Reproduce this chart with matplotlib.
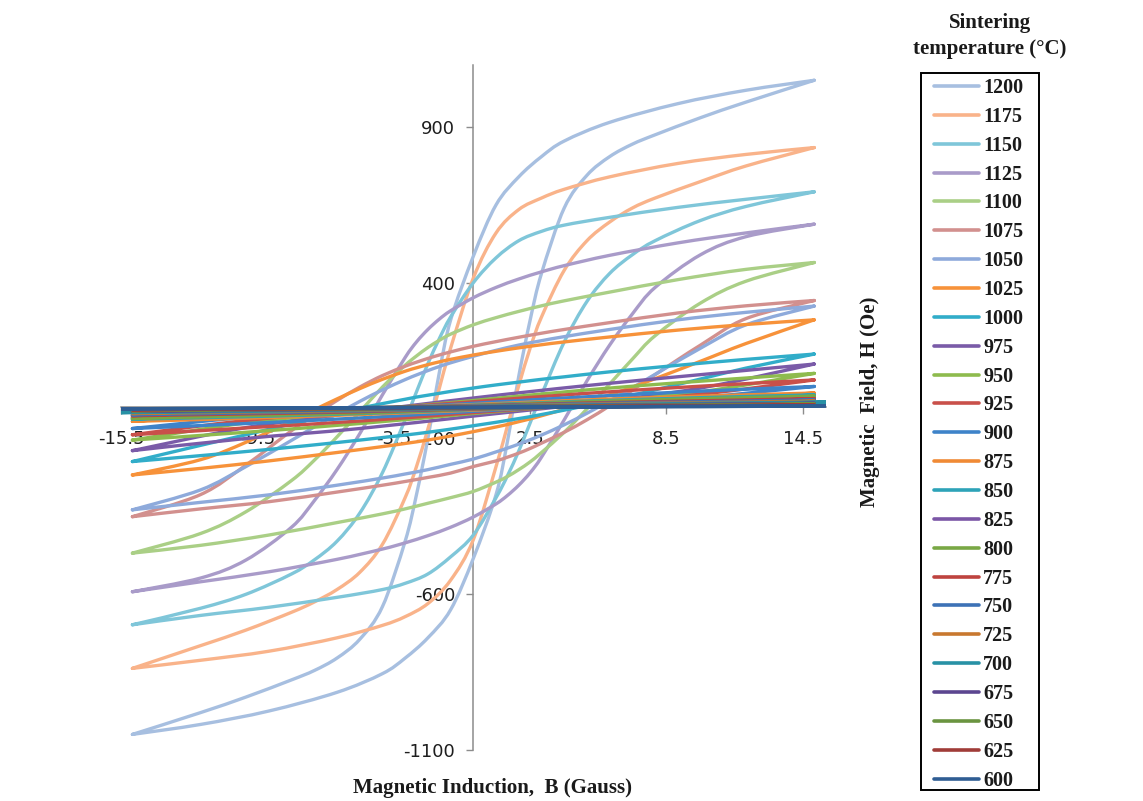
import matplotlib
matplotlib.use('Agg')
import matplotlib.pyplot as plt
from matplotlib.patches import Rectangle, PathPatch
from matplotlib.path import Path
from matplotlib.lines import Line2D
from matplotlib.font_manager import FontProperties

plt.rcParams['axes.unicode_minus'] = False

# sintering temperatures, in legend order
temps = [1200, 1175, 1150, 1125, 1100, 1075, 1050, 1025, 1000,
         975, 950, 925, 900, 875, 850, 825, 800, 775, 750, 725, 700, 675, 650, 625, 600]
colors = ['#A7BFE0', '#F9B38A', '#7FC6D9', '#A99BC9', '#AACF86', '#D2908E', '#8EAADB',
          '#F7923A', '#31ADC9', '#7A5BA8', '#8EBB4E', '#C9504A', '#3E83C9', '#F08A35',
          '#2DA3B8', '#7B56A6', '#79A845', '#BE433F', '#3D72B6', '#C8782F', '#2891A5',
          '#5C4690', '#6A9440', '#A03C38', '#2F5D93']

# B (Gauss) for the wide loops: descending branch, then ascending branch
b_down = [15, 12, 9, 6, 4, 3, 2, 1, 0, -1, -1.5, -2, -2.5, -3, -4, -5, -6, -7, -8, -10, -12, -15]
b_up = [-15, -12, -9, -6, -4, -3, -2, -1, 0, 1, 1.5, 2, 2.5, 3, 4, 5, 6, 7, 8, 10, 12, 15]

# H (Oe)
h1200_down = [1050, 1018, 975, 915, 855, 805, 740, 650, 485, 280, 110, -100, -280, -430, -640, -745, -805, -845, -875, -930, -980, -1050]
h1200_up = [-1050, -1018, -975, -915, -855, -805, -740, -650, -485, -280, -110, 100, 280, 430, 640, 745, 805, 845, 875, 930, 980, 1050]
h1175_down = [834, 812, 783, 740, 700, 672, 635, 560, 415, 190, 60, -70, -190, -290, -440, -530, -585, -625, -658, -715, -765, -838]
h1175_up = [-838, -812, -783, -740, -700, -672, -630, -555, -425, -190, -60, 70, 190, 290, 440, 535, 595, 640, 672, 725, 775, 834]
h1150_down = [692, 668, 642, 610, 585, 565, 535, 480, 400, 290, 220, 140, 50, -40, -210, -340, -430, -490, -535, -600, -645, -698]
h1150_up = [-698, -668, -642, -610, -585, -565, -535, -480, -410, -290, -220, -140, -50, 40, 210, 340, 430, 490, 535, 600, 645, 692]
h1125_down = [588, 560, 528, 488, 455, 435, 412, 385, 352, 310, 283, 250, 210, 160, 40, -85, -200, -300, -385, -490, -548, -592]
h1125_up = [-592, -560, -528, -488, -455, -435, -412, -385, -352, -310, -283, -250, -210, -160, -40, 85, 200, 300, 385, 490, 548, 588]
h1100_down = [465, 443, 410, 370, 342, 326, 308, 288, 265, 235, 215, 192, 165, 135, 65, -15, -95, -170, -235, -335, -405, -468]
h1100_up = [-468, -443, -410, -370, -342, -326, -308, -290, -270, -240, -222, -200, -175, -145, -80, -5, 75, 155, 230, 335, 405, 465]
h1075_down = [343, 326, 303, 272, 250, 238, 225, 211, 196, 178, 168, 157, 145, 132, 102, 65, 22, -25, -75, -185, -280, -351]
h1075_up = [-351, -326, -303, -272, -250, -238, -225, -211, -190, -172, -160, -147, -132, -115, -80, -40, 5, 55, 105, 200, 285, 343]
h1050_down = [325, 305, 281, 250, 227, 214, 200, 183, 164, 143, 131, 118, 104, 89, 56, 19, -21, -63, -106, -190, -265, -329]
h1050_up = [-329, -305, -281, -250, -227, -214, -200, -183, -166, -143, -131, -118, -104, -89, -56, -19, 21, 63, 106, 190, 265, 325]
h1025_down = [281, 266, 248, 226, 210, 201, 191, 180, 168, 154, 146, 137, 127, 116, 90, 60, 27, -8, -44, -112, -168, -217]
h1025_up = [-217, -196, -172, -145, -126, -116, -105, -92, -78, -63, -55, -46, -37, -27, -6, 16, 40, 65, 92, 148, 205, 281]
h1000_down = [171, 154, 135, 114, 98, 90, 81, 72, 62, 51, 45, 39, 33, 26, 12, -3, -19, -36, -53, -88, -122, -174]
h1000_up = [-174, -155, -135, -113, -97, -89, -80, -70, -59, -48, -42, -36, -30, -23, -9, 6, 22, 39, 56, 91, 126, 171]

# narrow loops
bs_down = [15, 10, 5, 0, -5, -10, -15]
bs_up = [-15, -10, -5, 0, 5, 10, 15]
be_down = [15.5, 10, 5, 0, -5, -10, -15.5]
be_up = [-15.5, -10, -5, 0, 5, 10, 15.5]

h975_down = [139, 105, 70, 30, -15, -65, -139]
h975_up = [-139, -100, -68, -28, 12, 62, 139]
h950_down = [109, 84, 56, 22, -12, -50, -105]
h950_up = [-105, -80, -52, -20, 12, 50, 109]
h925_down = [88, 68, 45, 18, -10, -42, -88]
h925_up = [-88, -66, -44, -17, 10, 42, 88]
h900_down = [67, 52, 34, 13, -8, -32, -68]
h900_up = [-68, -52, -34, -13, 8, 32, 67]
h875_down = [46, 36, 24, 9, -6, -22, -45]
h875_up = [-45, -35, -23, -9, 6, 22, 46]
h850_down = [40, 31, 20, 7, -5, -19, -38]
h850_up = [-38, -30, -20, -7, 5, 19, 40]
h825_down = [33, 25, 16, 6, -4, -15, -32]
h825_up = [-32, -24, -16, -6, 4, 15, 33]
h800_down = [36, 28, 18, 6, -4, -17, -36]
h800_up = [-36, -27, -18, -6, 4, 17, 36]
h775_down = [28, 21, 14, 5, -3, -13, -27]
h775_up = [-27, -21, -14, -5, 3, 13, 28]
h750_down = [24, 18, 12, 4, -3, -11, -24]
h750_up = [-24, -18, -12, -4, 3, 11, 24]
h725_down = [20, 15, 10, 3, -2, -9, -20]
h725_up = [-20, -15, -10, -3, 2, 9, 20]
h700_down = [17, 13, 8, 3, -2, -8, -17]
h700_up = [-17, -13, -8, -3, 2, 8, 17]
h675_down = [13, 10, 6, 2, -1, -6, -13]
h675_up = [-13, -10, -6, -2, 1, 6, 13]
h650_down = [11, 8, 5, 2, -1, -5, -11]
h650_up = [-11, -8, -5, -2, 1, 5, 11]
h625_down = [8, 6, 4, 1, -1, -4, -8]
h625_up = [-8, -6, -4, -1, 1, 4, 8]
h600_down = [5, 4, 2, 1, -1, -2, -5]
h600_up = [-5, -4, -2, -1, 1, 2, 5]

loops = [
    (b_down, h1200_down, b_up, h1200_up),
    (b_down, h1175_down, b_up, h1175_up),
    (b_down, h1150_down, b_up, h1150_up),
    (b_down, h1125_down, b_up, h1125_up),
    (b_down, h1100_down, b_up, h1100_up),
    (b_down, h1075_down, b_up, h1075_up),
    (b_down, h1050_down, b_up, h1050_up),
    (b_down, h1025_down, b_up, h1025_up),
    (b_down, h1000_down, b_up, h1000_up),
    (bs_down, h975_down, bs_up, h975_up),
    (bs_down, h950_down, bs_up, h950_up),
    (bs_down, h925_down, bs_up, h925_up),
    (bs_down, h900_down, bs_up, h900_up),
    (bs_down, h875_down, bs_up, h875_up),
    (bs_down, h850_down, bs_up, h850_up),
    (bs_down, h825_down, bs_up, h825_up),
    (bs_down, h800_down, bs_up, h800_up),
    (bs_down, h775_down, bs_up, h775_up),
    (bs_down, h750_down, bs_up, h750_up),
    (bs_down, h725_down, bs_up, h725_up),
    (be_down, h700_down, be_up, h700_up),
    (bs_down, h675_down, bs_up, h675_up),
    (bs_down, h650_down, bs_up, h650_up),
    (bs_down, h625_down, bs_up, h625_up),
    (be_down, h600_down, be_up, h600_up),
]


def smooth_branch(xs, ys):
    # Excel-style smoothed line: bezier segments through the read points
    pts = list(zip(xs, ys))
    n = len(pts)
    verts = [pts[0]]
    codes = [Path.MOVETO]
    for i in range(n - 1):
        p0 = pts[i - 1] if i > 0 else pts[i]
        p1 = pts[i]
        p2 = pts[i + 1]
        p3 = pts[i + 2] if i + 2 < n else pts[i + 1]
        c1 = (p1[0] + (p2[0] - p0[0]) / 6, p1[1] + (p2[1] - p0[1]) / 6)
        c2 = (p2[0] - (p3[0] - p1[0]) / 6, p2[1] - (p3[1] - p1[1]) / 6)
        verts += [c1, c2, p2]
        codes += [Path.CURVE4] * 3
    return verts, codes


fig = plt.figure(figsize=(11.43, 8.01), dpi=100)
ax = fig.add_axes([0.1059, 0.0637, 0.6164, 0.8555])

handles = []
for i, (bd, hd, bu, hu) in enumerate(loops):
    v1, c1 = smooth_branch(bd, hd)
    v2, c2 = smooth_branch(bu, hu)
    patch = PathPatch(Path(v1 + v2, c1 + c2), facecolor='none', edgecolor=colors[i],
                      lw=2.4, capstyle='round', joinstyle='round', zorder=2)
    ax.add_patch(patch)
    handles.append(Line2D([], [], color=colors[i], lw=2.6, solid_capstyle='round'))

ax.set_xlim(-15.5, 15.5)
ax.set_ylim(-1100, 1100)

for side in ['top', 'right']:
    ax.spines[side].set_visible(False)
ax.spines['left'].set_position(('data', 0))
ax.spines['bottom'].set_position(('data', 0))
for side in ['left', 'bottom']:
    ax.spines[side].set_color('#8C8C8C')
    ax.spines[side].set_linewidth(1.1)
    ax.spines[side].set_zorder(1)

ax.set_xticks([-15.5, -9.5, -3.5, 2.5, 8.5, 14.5])
ax.set_xticklabels(['-15.5', '-9.5', '-3.5', '2.5', '8.5', '14.5'])
ax.set_yticks([-1100, -600, -100, 400, 900])
ax.tick_params(axis='both', direction='out', length=5, width=1, color='#8C8C8C',
               labelsize=13, labelcolor='#1E1E1E')
ax.tick_params(axis='x', pad=11)
ax.tick_params(axis='y', pad=8)
for t in ax.get_xticklabels() + ax.get_yticklabels():
    t.set_family('DejaVu Sans')
    t.set_bbox(dict(facecolor='white', edgecolor='none', pad=1))

serif_bold = dict(family='Liberation Serif', weight='bold', color='#1A1A1A')
fig.text(0.431, 0.016, 'Magnetic Induction,  B (Gauss)', ha='center', va='center',
         fontsize=15, **serif_bold)
fig.text(0.761, 0.498, 'Magnetic  Field, H (Oe)', ha='center', va='center',
         rotation=90, fontsize=15, **serif_bold)
fig.text(0.866, 0.955, 'Sintering\ntemperature (\u00b0C)', ha='center', va='center',
         fontsize=15, linespacing=1.35, **serif_bold)

labels = [str(t) for t in temps]
leg = fig.legend(handles, labels, loc='upper left', bbox_to_anchor=(934 / 1143, 1 - 78 / 801),
                 frameon=False, borderpad=0, borderaxespad=0, handlelength=2.24,
                 handletextpad=0.2, labelspacing=0.44,
                 prop=FontProperties(family='Liberation Serif', weight='bold', size=14.5))
for txt in leg.get_texts():
    txt.set_color('#1A1A1A')

fig.add_artist(Rectangle((921 / 1143, 1 - 790 / 801), 118 / 1143, 717 / 801,
                         transform=fig.transFigure, fill=False, edgecolor='black', lw=1.4))

fig.savefig('out.png', dpi=100)
